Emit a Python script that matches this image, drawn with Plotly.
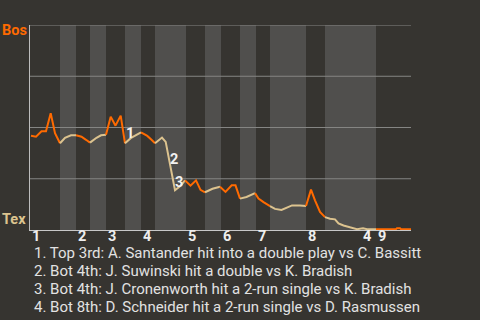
import plotly.graph_objects as go

# Game progress (x, in px-like units from first pitch) and Boston win probability
x_prog = [1, 6, 11.5, 16, 20.7, 25, 30, 35, 41, 46, 51.5, 56, 60, 66.5, 71, 76, 80.7, 85.5, 90.7, 95,
          100.7, 111, 117.3, 121.5, 125, 132, 135.7, 142, 145, 150, 155, 160.5, 166, 170.5, 175,
          182.5, 190, 195.5, 201.7, 205.5, 210, 216.5, 225, 228.5, 233.5, 240, 245, 251.5, 257, 262,
          270, 276, 281, 285, 290, 295, 300, 305, 308.5, 313.5, 318.5, 323.5, 327, 333, 337, 346,
          366, 367, 370, 371, 381]
wp_bos = [0.460, 0.455, 0.482, 0.482, 0.570, 0.472, 0.423, 0.450, 0.462, 0.462, 0.455, 0.440, 0.426,
          0.450, 0.462, 0.465, 0.553, 0.509, 0.558, 0.423, 0.448, 0.476, 0.459, 0.440, 0.423, 0.451,
          0.430, 0.262, 0.194, 0.213, 0.242, 0.216, 0.242, 0.196, 0.184, 0.201, 0.211, 0.186, 0.218,
          0.218, 0.153, 0.161, 0.180, 0.153, 0.136, 0.117, 0.103, 0.098, 0.109, 0.120, 0.120, 0.117,
          0.197, 0.145, 0.088, 0.063, 0.055, 0.052, 0.032, 0.022, 0.015, 0.010, 0.004, 0.009, 0.004,
          0.004, 0.004, 0.009, 0.009, 0.004, 0.004]

# Half-inning boundaries (top 1st ... top 9th end)
half_bounds = [0, 30, 46, 60, 76, 95, 111, 125, 156, 175, 191, 210, 226, 240, 276, 295, 346, 381]
inning_labels = ["1", "2", "3", "4", "5", "6", "7", "8", "9"]

# Key events
event_nums = ["1", "2", "3", "4"]
event_x = [99.5, 144, 149, 337]
event_y = [0.473, 0.346, 0.234, -0.034]
event_text = [
    "1. Top 3rd: A. Santander hit into a double play vs C. Bassitt",
    "2. Bot 4th: J. Suwinski hit a double vs K. Bradish",
    "3. Bot 4th: J. Cronenworth hit a 2-run single vs K. Bradish",
    "4. Bot 8th: D. Schneider hit a 2-run single vs D. Rasmussen",
]

BG = "#363430"
BAND = "#504f4d"
ORANGE = "#ff6a00"
TAN = "#dcc38f"
FONT = "Roboto"
X_MAX = 381.0

fig = go.Figure()

# line segments per half inning
prev_last = None
for h in range(len(half_bounds) - 1):
    s, e = half_bounds[h], half_bounds[h + 1]
    xs, ys = [], []
    if prev_last is not None:
        xs.append(prev_last[0]); ys.append(prev_last[1])
    for xv, yv in zip(x_prog, wp_bos):
        if (xv > s or (h == 0 and xv >= s)) and xv <= e:
            xs.append(xv); ys.append(yv)
    if len(xs) > 1:
        fig.add_trace(go.Scatter(x=xs, y=ys, mode="lines",
                                 line=dict(color=ORANGE if h % 2 == 0 else TAN, width=2),
                                 hoverinfo="skip", showlegend=False))
    if xs:
        prev_last = (xs[-1], ys[-1])

shapes = []
for h in range(1, len(half_bounds) - 1, 2):
    shapes.append(dict(type="rect", xref="x", yref="y", x0=half_bounds[h], x1=half_bounds[h + 1],
                       y0=0, y1=1, fillcolor=BAND, line=dict(width=0), layer="below"))
for gv in [0.25, 0.5, 0.75, 1.0]:
    shapes.append(dict(type="line", xref="x", yref="y", x0=0, x1=X_MAX, y0=gv, y1=gv,
                       line=dict(color="#858583", width=1), layer="below"))


def px(xv):
    return xv / X_MAX


annotations = []
annotations.append(dict(x=px(-29.5), y=0.971, xref="paper", yref="paper", text="<b>Bos</b>", showarrow=False,
                        xanchor="left", yanchor="middle", font=dict(family=FONT, size=14.5, color=ORANGE)))
annotations.append(dict(x=px(-29.5), y=0.049, xref="paper", yref="paper", text="<b>Tex</b>", showarrow=False,
                        xanchor="left", yanchor="middle", font=dict(family=FONT, size=14.5, color=TAN)))
for i, lab in enumerate(inning_labels):
    annotations.append(dict(x=px(half_bounds[2 * i]), y=-0.034, xref="paper", yref="paper",
                            text="<b>" + lab + "</b>", showarrow=False, xanchor="left", yanchor="middle",
                            font=dict(family=FONT, size=14.5, color="#eeeeee")))
for n, ex, ey in zip(event_nums, event_x, event_y):
    annotations.append(dict(x=px(ex), y=ey, xref="paper", yref="paper", text="<b>" + n + "</b>",
                            showarrow=False, xanchor="center", yanchor="middle",
                            font=dict(family=FONT, size=14.5, color="#f2f2f2")))
for i, t in enumerate(event_text):
    annotations.append(dict(x=px(1.5), y=-0.112 - 0.088 * i, xref="paper", yref="paper", text=t,
                            showarrow=False, xanchor="left", yanchor="middle",
                            font=dict(family=FONT, size=15, color="#e2e2e2")))

fig.update_layout(
    width=480, height=320,
    margin=dict(l=30, r=69, t=25, b=90),
    paper_bgcolor=BG, plot_bgcolor=BG,
    shapes=shapes, annotations=annotations,
    xaxis=dict(range=[0, X_MAX], showgrid=False, zeroline=False, showticklabels=False, ticks="",
               showline=True, linecolor="#c8c8c8", linewidth=1.3, fixedrange=True),
    yaxis=dict(range=[0, 1], showgrid=False, zeroline=False, showticklabels=False, ticks="",
               showline=True, linecolor="#bdbdbd", linewidth=1.3, fixedrange=True),
    showlegend=False,
)

fig.write_html("out.html", config={"displayModeBar": False})
